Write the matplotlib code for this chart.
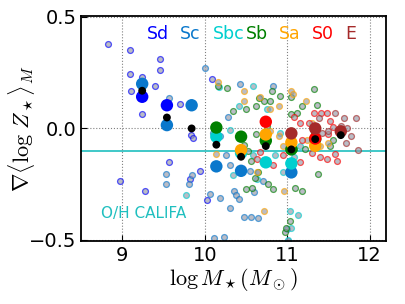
import numpy as np
import matplotlib
matplotlib.use("Agg")
import matplotlib.pyplot as plt

plt.rcParams['mathtext.fontset'] = 'cm'

# === TYPES AND COLOURS ===
types = ['Sd', 'Sc', 'Sbc', 'Sb', 'Sa', 'S0', 'E']
colors = ['blue', '#0a78cc', '#00cfcf', 'green', 'orange', 'red', '#a52a2a']

# === INDIVIDUAL GALAXIES (logM, grad) ===
sd_x = [8.82, 9.09, 9.09, 9.11, 9.24, 9.24, 8.97, 9.28, 9.46, 9.46, 9.39, 9.56, 9.70,
        9.82, 9.83, 9.94, 10.03, 10.09, 9.86]
sd_y = [0.38, 0.35, 0.245, 0.17, 0.23, 0.065, -0.235, -0.28, 0.31, 0.26, 0.19, -0.15, 0.11,
        -0.225, -0.03, -0.19, -0.32, 0.22, -0.045]
sc_x = [9.57, 9.53, 9.53, 9.81, 9.85, 10.0, 10.06, 10.18, 10.30, 10.11, 10.23, 10.28, 10.43,
        10.36, 10.38, 10.41, 10.47, 10.56, 10.65, 10.60, 10.71, 10.30, 10.26, 10.55, 10.18,
        10.10, 11.0, 11.01, 10.83]
sc_y = [0.135, -0.205, -0.25, -0.25, -0.21, 0.27, -0.295, -0.31, -0.357, -0.49, -0.485, 0.05, 0.20,
        -0.28, -0.30, -0.315, -0.395, -0.395, -0.40, -0.285, -0.235, -0.165, -0.12, -0.19, -0.035,
        -0.02, -0.45, -0.505, 0.19]
sbc_x = [9.77, 10.17, 10.59, 11.03, 11.13, 11.05, 11.01, 10.41, 10.30, 10.75, 10.91, 10.85,
         11.08, 10.59, 11.16, 10.95, 10.63, 10.34]
sbc_y = [-0.30, 0.185, 0.19, -0.37, -0.39, -0.445, -0.50, 0.10, -0.005, 0.085, -0.02, -0.12,
         -0.13, -0.12, -0.08, -0.195, -0.225, -0.21]
sb_x = [10.16, 10.27, 10.34, 10.50, 10.62, 10.66, 10.72, 10.79, 10.82, 10.91, 11.05, 11.32,
        11.18, 11.36, 11.12, 11.04, 10.48, 10.53, 10.62, 10.56, 10.65, 10.61, 10.50, 10.57,
        10.83, 10.77, 11.18, 11.10, 11.37, 10.97, 10.99, 11.03, 11.08, 11.56, 11.52, 11.22,
        11.32, 10.75]
sb_y = [0.19, 0.18, 0.08, 0.085, 0.10, 0.135, 0.125, 0.125, 0.17, 0.145, 0.14, 0.175,
        0.10, 0.105, 0.07, 0.065, -0.075, -0.10, -0.025, -0.145, -0.195, -0.22, -0.27, -0.265,
        -0.27, -0.25, -0.28, -0.265, -0.205, -0.465, -0.445, -0.415, -0.09, -0.05, -0.08, -0.09,
        -0.02, 0.01]
sa_x = [10.16, 10.48, 10.67, 10.48, 10.79, 10.90, 11.04, 11.07, 11.23, 10.14, 10.79, 10.90,
        10.96, 10.72, 11.24, 11.30, 11.40, 10.95, 10.63, 11.50]
sa_y = [0.21, 0.125, 0.14, 0.17, 0.085, 0.10, 0.17, 0.155, 0.125, -0.115, -0.01, -0.035,
        -0.28, -0.37, -0.05, 0.025, -0.08, -0.08, -0.195, -0.065]
s0_x = [11.08, 11.16, 11.26, 11.41, 11.48, 11.52, 11.56, 11.18, 11.30, 11.40, 11.48, 11.16,
        10.95, 10.63, 10.67, 10.83, 11.60, 11.58, 11.32, 11.50]
s0_y = [0.05, 0.025, 0.025, 0.07, 0.07, 0.035, 0.005, -0.05, -0.11, -0.13, -0.135, -0.15,
        -0.12, -0.135, -0.105, -0.165, -0.145, -0.115, 0.07, -0.025]
e_x = [11.73, 11.77, 11.83, 11.86, 11.71, 11.65, 11.50, 11.42, 11.69, 11.38, 11.58]
e_y = [0.0, -0.035, 0.045, -0.095, -0.065, 0.01, -0.01, -0.02, 0.045, 0.045, 0.07]

small_x = [sd_x, sc_x, sbc_x, sb_x, sa_x, s0_x, e_x]
small_y = [sd_y, sc_y, sbc_y, sb_y, sa_y, s0_y, e_y]

# === BINNED MEANS PER TYPE ===
mean_x = [[9.24, 9.54],
          [9.24, 9.54, 9.84, 10.14, 10.44, 11.05],
          [10.14, 10.44, 10.74, 11.05],
          [10.14, 10.44, 10.74, 11.05, 11.34],
          [10.44, 10.74, 11.05, 11.34],
          [10.74, 11.34],
          [11.05, 11.34, 11.65]]
mean_y = [[0.142, 0.104],
          [0.20, 0.015, 0.104, -0.17, -0.19, -0.197],
          [-0.037, -0.11, -0.152, -0.157],
          [0.004, -0.037, -0.055, -0.094, -0.048],
          [-0.097, -0.027, -0.063, -0.078],
          [0.03, -0.045],
          [-0.022, 0.0, -0.013]]

# all-type mean
all_x = [9.24, 9.54, 9.84, 10.14, 10.44, 10.74, 11.05, 11.34, 11.65]
all_y = [0.169, 0.049, 0.0, -0.073, -0.127, -0.079, -0.094, -0.048, -0.030]

OH_CALIFA = -0.1

# === PLOT ===
fig = plt.figure(figsize=(4.06, 3.04), dpi=100)
ax = fig.add_axes([0.2, 0.207, 0.751, 0.741])

for xs, ys, c in zip(small_x, small_y, colors):
    ax.scatter(xs, ys, s=18, facecolor='#9598a6', edgecolor=c, linewidth=0.9,
               alpha=0.65, zorder=2)

for xs, ys, c in zip(mean_x, mean_y, colors):
    ax.scatter(xs, ys, s=80, color=c, edgecolor='none', zorder=3)

ax.scatter(all_x, all_y, s=32, color='black', edgecolor='none', zorder=4)

ax.axhline(OH_CALIFA, color='#1fbfbf', lw=1.2, zorder=1)

for i, (t, c) in enumerate(zip(types, colors)):
    ax.text(9.3 + 0.4 * i, 0.40, t, color=c, fontsize=12.5, va='baseline')
ax.text(8.74, -0.40, 'O/H CALIFA', color='#1fbfbf', fontsize=11, va='baseline')

ax.set_xlim(8.5, 12.2)
ax.set_ylim(-0.505, 0.505)
ax.set_xticks([9, 10, 11, 12])
ax.set_yticks([-0.5, 0.0, 0.5])
ax.tick_params(labelsize=14, direction='in', length=4)
ax.grid(True, color='0.5', linestyle=':', linewidth=0.8)
for sp in ax.spines.values():
    sp.set_linewidth(1.3)

ax.set_xlabel(r'$\log M_\star (M_\odot)$', fontsize=16, labelpad=1)
ax.set_ylabel(r'$\nabla\langle\log\,Z_\star\rangle_M$', fontsize=16)
ax.yaxis.set_label_coords(-0.145, 0.5)

fig.savefig('out.png', dpi=100)
